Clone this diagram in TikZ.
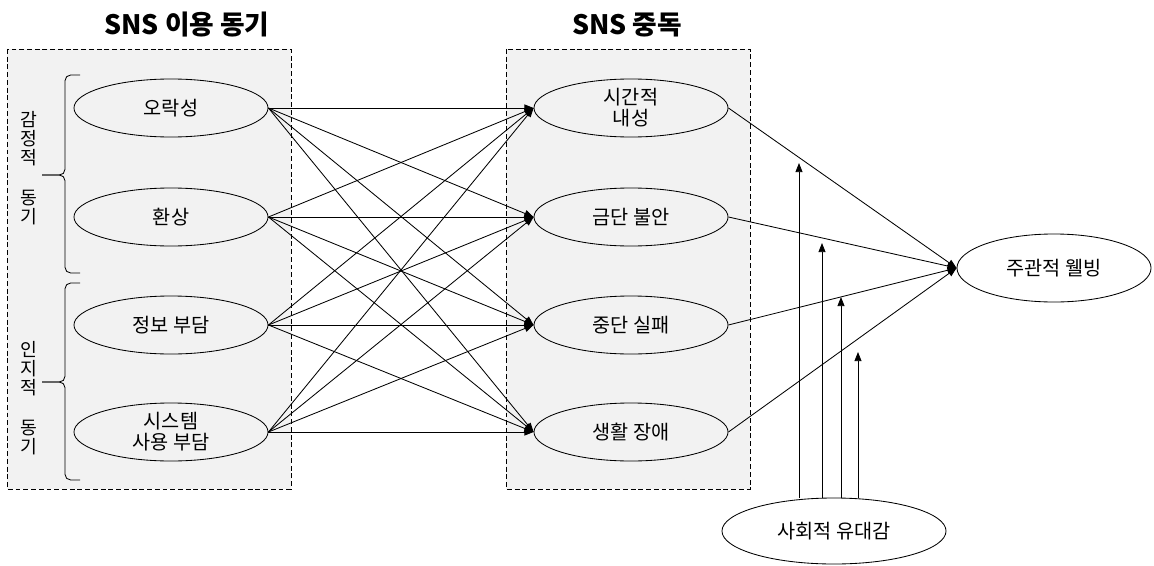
\documentclass[tikz,border=0pt]{standalone}
\usepackage{fontspec}
\setmainfont{Noto Sans CJK KR}
\usetikzlibrary{shapes.geometric,arrows.meta}

\begin{document}
\begin{tikzpicture}[x=0.025cm, y=-0.025cm, line width=0.6pt,
        >={Triangle[length=6.5pt,width=5pt]}]
        \tikzstyle{factor}=[ellipse, draw, minimum width=4.85cm, minimum height=1.45cm, inner sep=0pt, align=center, font=\fontsize{14}{15}\selectfont]
        \tikzstyle{panel}=[draw, dash pattern=on 3.5pt off 2pt, fill=black!5]
        \tikzstyle{title}=[font=\fontsize{19}{21}\selectfont\bfseries]
        \tikzstyle{side}=[align=center, inner sep=0pt, font=\fontsize{13}{13.5}\selectfont]

        \useasboundingbox (0,0) rectangle (1154,565);

        \draw[panel] (7,49) rectangle (291,489);
        \draw[panel] (506,49) rectangle (750,489);
        \node[title] (tl) at (187,25) {SNS 이용 동기};
        \node[title] (tm) at (627,25) {SNS 중독};

        \node[factor] (a1) at (171,108) {오락성};
        \node[factor] (a2) at (171,217) {환상};
        \node[factor] (a3) at (171,325) {정보 부담};
        \node[factor] (a4) at (171,432) {시스템\\사용 부담};

        \node[factor] (b1) at (631,108) {시간적\\내성};
        \node[factor] (b2) at (631,217) {금단 불안};
        \node[factor] (b3) at (631,325) {중단 실패};
        \node[factor] (b4) at (631,432) {생활 장애};

        \node[factor, minimum height=1.7cm] (w) at (1054,268) {주관적 웰빙};
        \node[factor, minimum width=5.6cm, minimum height=1.65cm] (s) at (834,531) {사회적 유대감};

        \foreach \i in {1,...,4}
            \foreach \j in {1,...,4}
                \draw[->] (a\i.east) -- (b\j.west);
        \foreach \j in {1,...,4}
            \draw[->] (b\j.east) -- (w.west);

        \coordinate (m1) at (799,163);
        \coordinate (m2) at (822,243);
        \coordinate (m3) at (841,297);
        \coordinate (m4) at (858,352);
        \foreach \k in {1,...,4}
            \draw[->] (s.north -| m\k) -- (m\k);

        \node[side] (emo) at (29,168) {감\\정\\적\\[15pt]동\\기};
        \node[side] (cog) at (29,398) {인\\지\\적\\[15pt]동\\기};
        \draw[rounded corners=4pt] (80,75) -- (65,75) -- (65,175) -- (42,175);
        \draw[rounded corners=4pt] (42,175) -- (65,175) -- (65,273) -- (80,273);
        \draw[rounded corners=4pt] (80,283) -- (65,283) -- (65,382) -- (42,382);
        \draw[rounded corners=4pt] (42,382) -- (65,382) -- (65,480) -- (80,480);
    \end{tikzpicture}
\end{document}
